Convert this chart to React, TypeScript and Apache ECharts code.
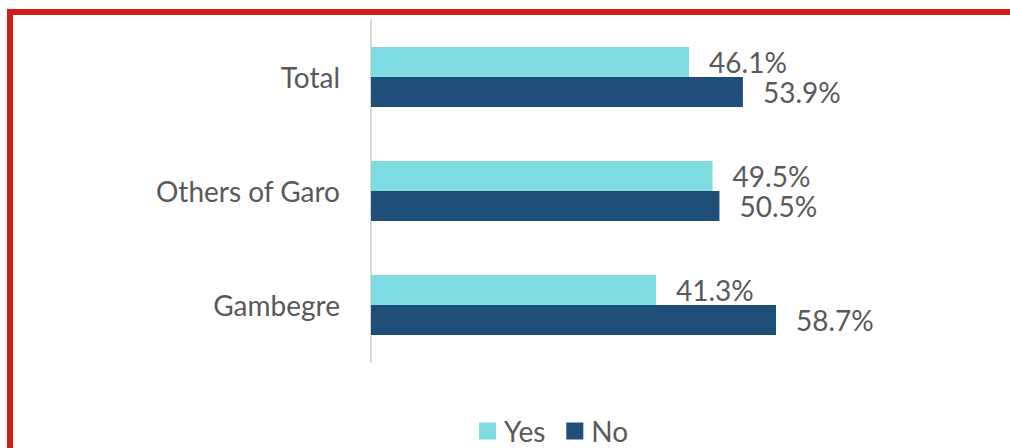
import React, { useEffect, useRef } from "react";
import * as echarts from "echarts";

const categories = ["Total", "Others of Garo", "Gambegre"];
const yesValues = [46.1, 49.5, 41.3];
const noValues = [53.9, 50.5, 58.7];
const seriesNames = ["Yes", "No"];

const FONT = "Lato";
const TEXT = "#595959";

export default function App() {
  const ref = useRef<HTMLDivElement>(null);
  useEffect(() => {
    if (!ref.current) return;
    const chart = echarts.init(ref.current, null, { renderer: "svg" });
    const label = {
      show: true,
      position: "right",
      distance: 20,
      fontFamily: FONT,
      fontSize: 28,
      lineHeight: 26,
      color: TEXT,
      formatter: (p: any) => p.value.toFixed(1) + "%",
    };
    chart.setOption({
      animation: false,
      backgroundColor: "#ffffff",
      textStyle: { fontFamily: FONT },
      grid: { left: 371, top: 20, bottom: 86, width: 621, containLabel: false },
      xAxis: {
        type: "value",
        min: 0,
        max: 90,
        show: false,
      },
      yAxis: {
        type: "category",
        inverse: true,
        data: categories,
        axisLine: { show: true, lineStyle: { color: "#D9D9D9", width: 2 } },
        axisTick: { show: false },
        axisLabel: { margin: 31, fontFamily: FONT, fontSize: 28, color: TEXT },
      },
      legend: {
        data: seriesNames,
        bottom: -2,
        left: 474,
        itemWidth: 17,
        itemHeight: 17,
        itemGap: 21,
        icon: "rect",
        textStyle: { fontFamily: FONT, fontSize: 28, color: TEXT, padding: [0, 0, 0, 3] },
      },
      series: [
        {
          name: seriesNames[0],
          type: "bar",
          data: yesValues,
          barWidth: 30,
          barGap: "0%",
          itemStyle: { color: "#80DCE3" },
          label,
        },
        {
          name: seriesNames[1],
          type: "bar",
          data: noValues,
          barWidth: 30,
          barGap: "0%",
          itemStyle: { color: "#1F4E79" },
          label,
        },
      ],
      graphic: [
        {
          type: "rect",
          shape: { x: 7, y: 9, width: 1003, height: 6 },
          style: { fill: "#D11F1A" },
          silent: true,
        },
        {
          type: "rect",
          shape: { x: 7, y: 9, width: 6, height: 439 },
          style: { fill: "#D11F1A" },
          silent: true,
        },
      ],
    });
    return () => chart.dispose();
  }, []);
  return (
    <div
      ref={ref}
      style={{ position: "absolute", left: 0, top: 0, width: 1010, height: 448 }}
    />
  );
}
